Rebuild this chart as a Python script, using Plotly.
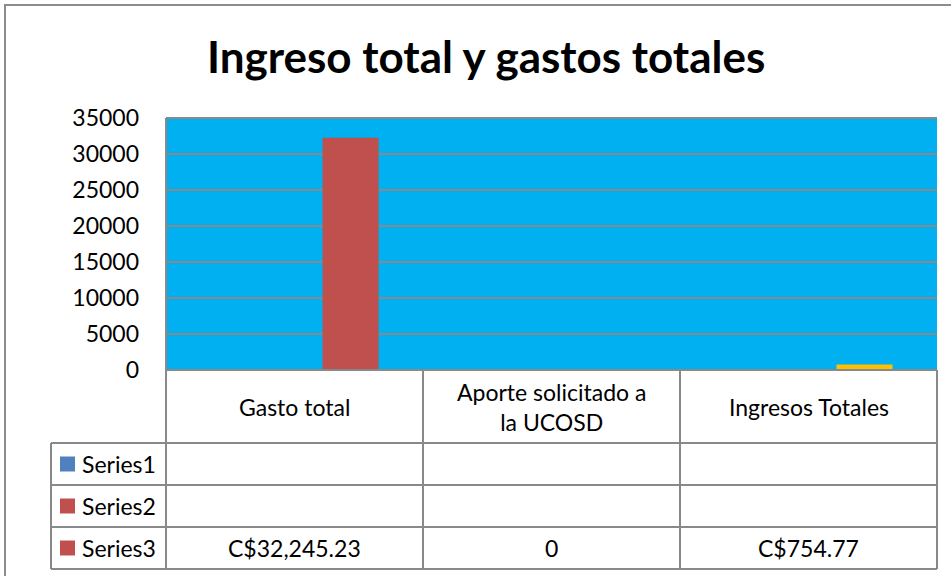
import plotly.graph_objects as go

W, H = 951, 576

title = "Ingreso total y gastos totales"
categories = ["Gasto total", "Aporte solicitado a<br>la UCOSD", "Ingresos Totales"]
series_names = ["Series1", "Series2", "Series3"]
series1 = [None, None, None]
series2 = [None, None, None]
series3 = [32245.23, 0, 754.77]
series_colors = ["#4F81BD", "#C0504D", "#C0504D"]
series3_point_colors = ["#C0504D", "#C0504D", "#FFC000"]
y_ticks = [0, 5000, 10000, 15000, 20000, 25000, 30000, 35000]

FONT = "Lato"
GRID = "#898989"
TXT = 23


def px(x):
    return x / W


def py(y):
    return 1 - y / H


# layout geometry (pixels)
PL, PR, PT, PB = 166, 937, 118, 370
COLS = [PL, 423, 680, PR]
ROWS = [PB, 443, 485, 527, 569]
LEG_L = 51

fig = go.Figure()
all_series = [series1, series2, series3]
for i, (name, vals) in enumerate(zip(series_names, all_series)):
    color = series3_point_colors if i == 2 else series_colors[i]
    fig.add_trace(go.Bar(x=list(range(len(categories))), y=vals, name=name,
                         marker=dict(color=color, line=dict(width=0)),
                         showlegend=False, hoverinfo="y+name"))

shapes = []
# outer border (top and left visible)
shapes.append(dict(type="rect", xref="paper", yref="paper", x0=px(5), x1=px(960), y0=py(590), y1=py(5),
                   line=dict(color="#8C8C8C", width=2), fillcolor="rgba(0,0,0,0)", layer="below"))


def hline(y, x0, x1):
    shapes.append(dict(type="line", xref="paper", yref="paper", x0=px(x0), x1=px(x1), y0=py(y), y1=py(y),
                       line=dict(color=GRID, width=2)))


def vline(x, y0, y1):
    shapes.append(dict(type="line", xref="paper", yref="paper", x0=px(x), x1=px(x), y0=py(y0), y1=py(y1),
                       line=dict(color=GRID, width=2)))


# data table lines
hline(ROWS[0], PL, PR)
for r in ROWS[1:]:
    hline(r, LEG_L, PR)
for c in COLS:
    if c == PL:
        vline(c, PT, ROWS[-1])
    else:
        vline(c, ROWS[0], ROWS[-1])
vline(LEG_L, ROWS[1], ROWS[-1])
hline(PT, PL, PR)

annotations = []
# category labels
for i, cat in enumerate(categories):
    annotations.append(dict(text=cat, xref="paper", yref="paper", x=px((COLS[i] + COLS[i + 1]) / 2),
                            y=py((ROWS[0] + ROWS[1]) / 2), showarrow=False,
                            font=dict(family=FONT, size=TXT, color="#000000"), xanchor="center",
                            yanchor="middle"))


def fmt(v):
    if v is None:
        return ""
    if v == 0:
        return "0"
    return f"C${v:,.2f}"


for j, (name, vals) in enumerate(zip(series_names, all_series)):
    yc = (ROWS[j + 1] + ROWS[j + 2]) / 2
    # legend key
    shapes.append(dict(type="rect", xref="paper", yref="paper", x0=px(60), x1=px(75), y0=py(yc + 7.5),
                       y1=py(yc - 7.5), fillcolor=series_colors[j], line=dict(width=0)))
    annotations.append(dict(text=name, xref="paper", yref="paper", x=px(80), y=py(yc), showarrow=False,
                            font=dict(family=FONT, size=TXT, color="#000000"), xanchor="left",
                            yanchor="middle"))
    for i, v in enumerate(vals):
        t = fmt(v)
        if t:
            annotations.append(dict(text=t, xref="paper", yref="paper", x=px((COLS[i] + COLS[i + 1]) / 2),
                                    y=py(yc), showarrow=False,
                                    font=dict(family=FONT, size=TXT, color="#000000"),
                                    xanchor="center", yanchor="middle"))

# title
annotations.append(dict(text=f"<b>{title}</b>", xref="paper", yref="paper", x=px(486), y=py(56),
                        showarrow=False, font=dict(family=FONT, size=44, color="#000000"),
                        xanchor="center", yanchor="middle"))

fig.update_layout(
    width=W, height=H,
    autosize=False,
    margin=dict(l=0, r=0, t=0, b=0, pad=0, autoexpand=False),
    paper_bgcolor="#FFFFFF",
    plot_bgcolor="#00B0F0",
    barmode="group",
    bargap=0.346,
    bargroupgap=0,
    xaxis=dict(domain=[px(PL), px(PR)], range=[-0.5, 2.5], showticklabels=False, showgrid=False,
               zeroline=False, showline=False, fixedrange=True, automargin=False),
    yaxis=dict(domain=[py(PB), py(PT)], range=[0, 35000], tickvals=y_ticks,
               ticktext=[str(v) for v in y_ticks], showgrid=True, gridcolor=GRID, gridwidth=2,
               zeroline=False, showline=False, ticks="", ticklabelstandoff=26, automargin=False,
               tickfont=dict(family=FONT, size=TXT, color="#000000"), fixedrange=True),
    shapes=shapes,
    annotations=annotations,
    font=dict(family=FONT),
)

fig.write_html("out.html", config={"displayModeBar": False},
               post_script="document.body.style.margin='0';document.body.style.overflow='hidden';")
